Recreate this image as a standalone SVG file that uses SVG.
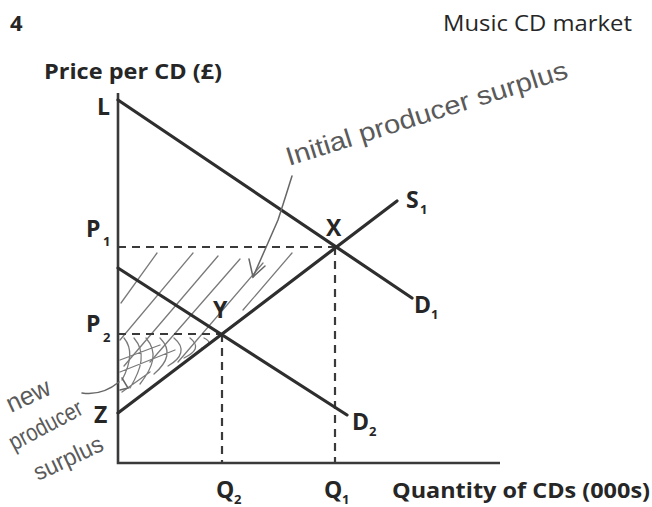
<svg xmlns="http://www.w3.org/2000/svg" width="652" height="507" viewBox="0 0 652 507">
<style>
.lbl{font-family:"Open Sans","Liberation Sans",sans-serif;font-weight:700;fill:#262626}
.sub{font-family:"Open Sans","Liberation Sans",sans-serif;font-weight:700;fill:#262626;font-size:13px}
.reg{font-family:"Open Sans","Liberation Sans",sans-serif;font-weight:400;fill:#262626}
.hand{font-family:"Liberation Sans","DejaVu Sans",sans-serif;fill:#5a5a5a}
.curve{stroke:#2e2e2e;stroke-width:3.2;fill:none;stroke-linecap:round}
.axis{stroke:#3a3a3a;stroke-width:2.6;fill:none}
.dash{stroke:#3a3a3a;stroke-width:2.2;stroke-dasharray:8 6;fill:none}
.hatch{stroke:#7a7a7a;stroke-width:1.3;fill:none;stroke-linecap:round}
.pen{stroke:#666;stroke-width:1.5;fill:none;stroke-linecap:round}
</style>
<defs>
<clipPath id="initClip"><polygon points="118,247 335,247 118,413"/></clipPath>
<clipPath id="newClip"><polygon points="118,334 222,334 118,413"/></clipPath>
</defs>
<rect width="652" height="507" fill="#ffffff"/>

<g id="titles">
<text class="lbl" x="10" y="31" font-size="22">4</text>
<text class="reg" x="443" y="31" font-size="21" textLength="189" lengthAdjust="spacingAndGlyphs">Music CD market</text>
<text class="lbl" x="44" y="79" font-size="21" textLength="178" lengthAdjust="spacingAndGlyphs">Price per CD (£)</text>
<text class="lbl" x="392" y="498" font-size="21" textLength="258" lengthAdjust="spacingAndGlyphs">Quantity of CDs (000s)</text>
</g>

<g id="hatching">
<g clip-path="url(#initClip)">
<path class="hatch" d="M157,253 L121,303 M193,253 L120,340 M218,256 L124,366 M240,259 L150,362 M263,263 L178,362 M292,253 L243,310"/>
</g>
<g clip-path="url(#newClip)">
<path class="hatch" d="M124,338 C134,350 130,365 122,380 M134,338 C146,352 142,368 130,388 M146,338 C158,352 154,366 140,384 M160,338 C172,350 168,362 154,374 M174,338 C186,348 182,358 168,366 M190,338 C200,346 196,352 184,358 M204,338 C212,342 210,346 202,348 M120,360 L160,345 M120,372 L175,350 M122,392 L150,372"/>
</g>
</g>

<g id="axes">
<path class="axis" d="M118,93 L118,463 L500,463"/>
</g>

<g id="connectors">
<path class="dash" d="M118,247 L335,247 M335,247 L335,463 M118,334 L222,334 M222,334 L222,463"/>
<path class="curve" d="M118,100 L412,298"/>
<path class="curve" d="M118,413 L397,201"/>
<path class="curve" d="M118,268 L347,415"/>
</g>

<g id="node-L"><text class="lbl" x="97" y="115" font-size="23">L</text></g>
<g id="node-P1"><text class="lbl" x="86" y="237" font-size="23">P</text><text class="sub" x="103" y="246">1</text></g>
<g id="node-P2"><text class="lbl" x="86" y="332" font-size="23">P</text><text class="sub" x="103" y="342">2</text></g>
<g id="node-Z"><text class="lbl" x="94" y="423" font-size="23">Z</text></g>
<g id="node-X"><text class="lbl" x="326" y="236" font-size="23">X</text></g>
<g id="node-Y"><text class="lbl" x="213" y="318" font-size="23">Y</text></g>
<g id="node-S1"><text class="lbl" x="406" y="208" font-size="23">S</text><text class="sub" x="420" y="214">1</text></g>
<g id="node-D1"><text class="lbl" x="414" y="313" font-size="23">D</text><text class="sub" x="431" y="319">1</text></g>
<g id="node-D2"><text class="lbl" x="352" y="430" font-size="23">D</text><text class="sub" x="369" y="436">2</text></g>
<g id="node-Q2"><text class="lbl" x="216" y="498" font-size="23">Q</text><text class="sub" x="234" y="504">2</text></g>
<g id="node-Q1"><text class="lbl" x="324" y="498" font-size="23">Q</text><text class="sub" x="342" y="504">1</text></g>

<g id="annotation-initial">
<text class="hand" x="289" y="166" font-size="26" transform="rotate(-17.5 289 166)" textLength="294" lengthAdjust="spacingAndGlyphs">Initial producer surplus</text>
<path class="pen" d="M292,176 C287,192 283,205 278,220 L253,277"/>
<path class="pen" d="M249,259 L253,277 L265,266"/>
</g>

<g id="annotation-new">
<text class="hand" x="11" y="413" font-size="26" transform="rotate(-25 11 413)" textLength="46" lengthAdjust="spacingAndGlyphs">new</text>
<text class="hand" x="14" y="451" font-size="24" transform="rotate(-28 14 451)" textLength="80" lengthAdjust="spacingAndGlyphs">producer</text>
<text class="hand" x="38" y="481" font-size="24" transform="rotate(-25 38 481)" textLength="74" lengthAdjust="spacingAndGlyphs">surplus</text>
<path class="pen" d="M82,393 Q102,396 119,382"/>
<path class="pen" d="M122,378 L128,388 L120,390"/>
</g>
</svg>
